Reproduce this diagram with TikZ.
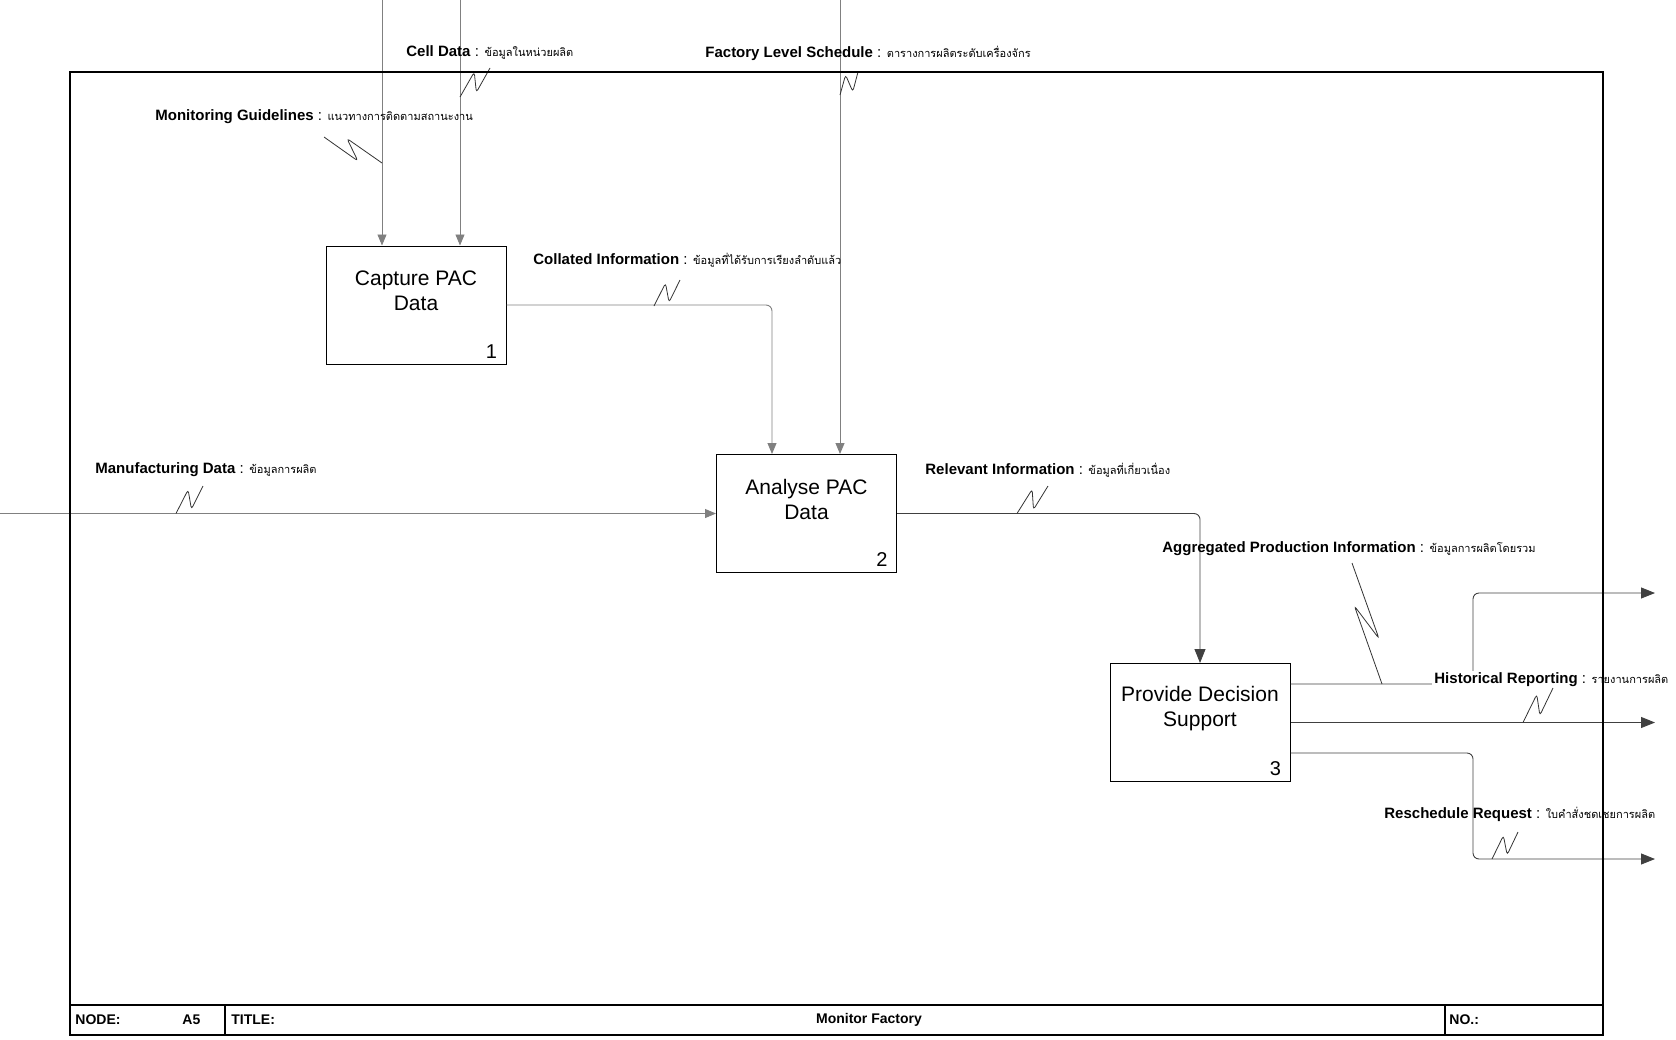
\documentclass[tikz,border=0pt]{standalone}
\usepackage{fontspec}
\setmainfont{Liberation Sans}
\newfontfamily\thaifont[Script=Thai]{Loma}
\usetikzlibrary{arrows.meta,calc}

\newcommand\flowtext[2]{\textbf{#1} : {\thaifont\fontsize{5.5}{6}\selectfont #2}}
\newcommand\squig[2]{\draw[squigline] #1 -- ($#1!0.66!#2!4pt!90:#2$) -- ($#1!0.36!#2!4pt!-90:#2$) -- #2;}
\newcommand\squigr[2]{\draw[squigline] #1 -- ($#1!0.66!#2!4pt!-90:#2$) -- ($#1!0.36!#2!4pt!90:#2$) -- #2;}

\tikzset{
  actbox/.style={draw, line width=0.5pt, minimum width=90pt, minimum height=59pt, inner sep=0pt},
  boxtext/.style={font=\fontsize{10.5}{12.5}\selectfont, align=center, inner sep=0pt},
  boxnum/.style={font=\fontsize{10}{11}\selectfont, anchor=south east, inner xsep=4.5pt, inner ysep=3pt},
  flow/.style={draw=black!50, line width=0.45pt, rounded corners=3pt},
  intip/.style={-{Triangle[length=5.5pt,width=4.5pt]}},
  outtip/.style={draw=black!75, -{Triangle[length=7pt,width=5.5pt]}},
  flowlabel/.style={anchor=west, inner sep=1pt, font=\fontsize{7.5}{8.5}\selectfont},
  squigline/.style={draw=black!80, line width=0.4pt, rounded corners=1.5pt},
  footer/.style={font=\bfseries\fontsize{7}{8}\selectfont, inner sep=0pt}
}

\begin{document}
\begin{tikzpicture}[x=0.5pt,y=-0.5pt]
	\useasboundingbox (0,0) rectangle (1676,1039);
	% activities
	\node (capture) [actbox] at (416,305) {};
	\node (analyse) [actbox] at (806.5,513.5) {};
	\node (decision) [actbox] at (1200,722.5) {};
	\node (capturetext) [boxtext] at ([yshift=7pt]capture.center) {Capture PAC\\Data};
	\node (analysetext) [boxtext] at ([yshift=7pt]analyse.center) {Analyse PAC\\Data};
	\node (decisiontext) [boxtext] at ([yshift=7pt]decision.center) {Provide Decision\\Support};
	\node (capturenum) [boxnum] at (capture.south east) {1};
	\node (analysenum) [boxnum] at (analyse.south east) {2};
	\node (decisionnum) [boxnum] at (decision.south east) {3};

	% free ends
	\coordinate (guide) at (382,0);
	\coordinate (cell) at (460,0);
	\coordinate (sched) at (840,0);
	\coordinate (manuf) at (0,513.5);
	\coordinate (aggr) at (1655,593);
	\coordinate (hist) at (1655,722.5);
	\coordinate (resch) at (1655,859);

	% arrows
	\draw[flow, intip] (guide) -- (guide |- capture.north);
	\draw[flow, intip] (cell) -- (cell |- capture.north);
	\draw[flow, intip] (sched) -- (sched |- analyse.north);
	\draw[flow, intip] (capture.east) -| ([xshift=-17.25pt]analyse.north);
	\draw[flow, intip] (manuf) -- (analyse.west);
	\draw[flow, outtip] (analyse.east) -| (decision.north);
	\draw[flow, outtip] ([yshift=19.25pt]decision.east) -| ([xshift=-91pt]aggr) -- (aggr);
	\draw[flow, outtip] (decision.east) -- (hist);
	\draw[flow, outtip] ([yshift=-15.25pt]decision.east) -| ([xshift=-91pt]resch) -- (resch);

	% labels
	\node (celllabel) [flowlabel] at (404,52) {\flowtext{Cell Data}{ข้อมูลในหน่วยผลิต}};
	\node (schedlabel) [flowlabel] at (703,53) {\flowtext{Factory Level Schedule}{ตารางการผลิตระดับเครื่องจักร}};
	\node (guidelabel) [flowlabel] at (153,117) {\flowtext{Monitoring Guidelines}{แนวทางการติดตามสถานะงาน}};
	\node (collabel) [flowlabel] at (531,260) {\flowtext{Collated Information}{ข้อมูลที่ได้รับการเรียงลำดับแล้ว}};
	\node (manuflabel) [flowlabel] at (93,470) {\flowtext{Manufacturing Data}{ข้อมูลการผลิต}};
	\node (rellabel) [flowlabel] at (923,470) {\flowtext{Relevant Information}{ข้อมูลที่เกี่ยวเนื่อง}};
	\node (aggrlabel) [flowlabel] at (1160,549) {\flowtext{Aggregated Production Information}{ข้อมูลการผลิตโดยรวม}};
	\node (histlabel) [flowlabel, fill=white] at (1432,680) {\flowtext{Historical Reporting}{รายงานการผลิต}};
	\node (reschlabel) [flowlabel] at (1382,814) {\flowtext{Reschedule Request}{ใบคำสั่งชดเชยการผลิต}};

	% squiggles
	\squig{(460,97)}{(490,68)}
	\squig{(840,95)}{(858,72)}
	\squigr{(382,163)}{(324,137)}
	\squig{(654,306)}{(680,280)}
	\squig{(176,513.5)}{(203,486)}
	\squig{(1017,513.5)}{(1048,486)}
	\squig{(1382,684)}{(1352,563)}
	\squig{(1523,722.5)}{(1553,688)}
	\squig{(1492,859)}{(1518,832)}

	% frame and footer
	\draw[line width=0.6pt] (70,72) rectangle (1603,1035);
	\draw[line width=0.6pt] (70,1005) -- (1603,1005) (225,1005) -- (225,1035) (1445,1005) -- (1445,1035);
	\node (fnode) [footer, anchor=west] at (75,1020) {NODE:};
	\node (fa5) [footer, anchor=west] at (182,1020) {A5};
	\node (ftitle) [footer, anchor=west] at (231,1020) {TITLE:};
	\node (fname) [footer] at (869,1020) {Monitor Factory};
	\node (fno) [footer, anchor=west] at (1449,1020) {NO.:};
\end{tikzpicture}
\end{document}
